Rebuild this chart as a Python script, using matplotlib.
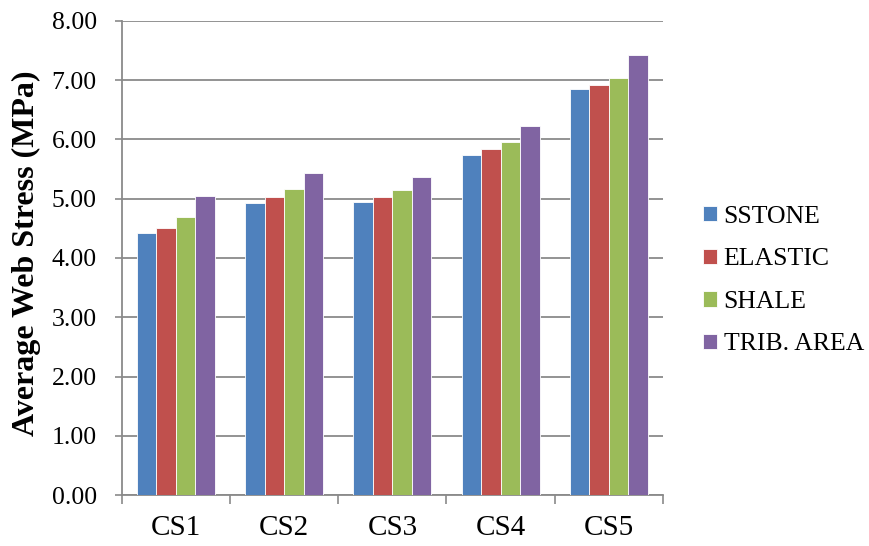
import numpy as np
import matplotlib
matplotlib.use("Agg")
import matplotlib.pyplot as plt

plt.rcParams['font.family'] = ['Liberation Serif', 'DejaVu Serif']

categories = ["CS1", "CS2", "CS3", "CS4", "CS5"]
series_names = ["SSTONE", "ELASTIC", "SHALE", "TRIB. AREA"]
sstone = [4.42, 4.93, 4.95, 5.73, 6.85]
elastic = [4.51, 5.02, 5.02, 5.83, 6.92]
shale = [4.69, 5.16, 5.14, 5.95, 7.03]
trib_area = [5.05, 5.43, 5.36, 6.22, 7.43]
colors = ["#4F81BD", "#C0504D", "#9BBB59", "#8064A2"]

fig = plt.figure(figsize=(8.7, 5.46), dpi=100)
ax = fig.add_axes([0.140, 0.093, 0.622, 0.869])

x = np.arange(len(categories))
w = 0.18
for i, (vals, name) in enumerate(zip([sstone, elastic, shale, trib_area], series_names)):
    ax.bar(x + (i - 1.5) * w, vals, w, color=colors[i], label=name,
           edgecolor="white", linewidth=0.6, zorder=3)

ax.set_xlim(-0.5, len(categories) - 0.5)
ax.set_ylim(0, 8)
ax.set_yticks(np.arange(0, 8.01, 1))
ax.set_yticklabels([f"{v:.2f}" for v in np.arange(0, 8.01, 1)], fontsize=18.5)
ax.grid(axis="y", color="#8a8a8a", linewidth=1.3, zorder=0)

# category boundaries get the tick marks, centres get the labels
ax.set_xticks(np.arange(-0.5, len(categories), 1))
ax.set_xticklabels([])
ax.set_xticks(x, minor=True)
ax.set_xticklabels(categories, minor=True, fontsize=21)
ax.tick_params(axis="x", which="minor", length=0, pad=14)
ax.tick_params(axis="x", which="major", length=6.5, color="#8a8a8a", width=1.2)
ax.tick_params(axis="y", length=5, color="#8a8a8a", width=1.2, direction="out", pad=13)

for s in ["top", "right"]:
    ax.spines[s].set_visible(False)
for s in ["left", "bottom"]:
    ax.spines[s].set_color("#8a8a8a")
    ax.spines[s].set_linewidth(1.3)

ax.set_ylabel("Average Web Stress (MPa)", fontsize=23, fontweight="bold")
ax.yaxis.set_label_coords(-0.15, 0.51)

fig.legend(loc="center left", bbox_to_anchor=(0.808, 0.486), frameon=False,
           fontsize=18.5, handlelength=0.55, handleheight=0.55, handletextpad=0.25,
           labelspacing=0.8, borderaxespad=0, borderpad=0)

fig.savefig("out.png", dpi=100)
